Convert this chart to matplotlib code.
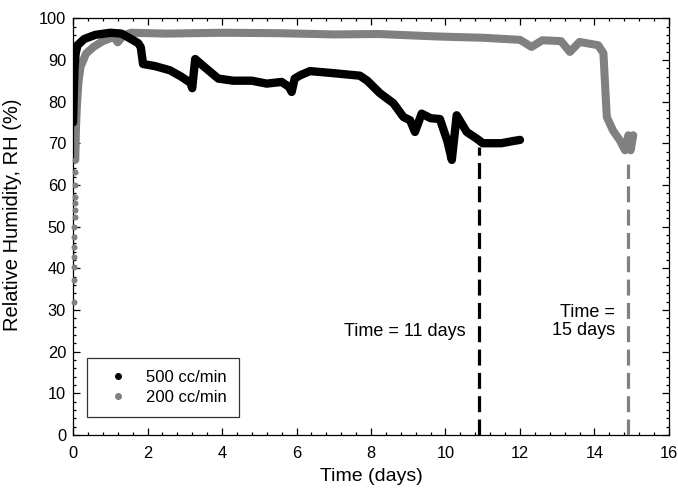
import numpy as np
import matplotlib
matplotlib.use("Agg")
import matplotlib.pyplot as plt
from matplotlib.ticker import MultipleLocator

plt.rcParams['font.family'] = ['Liberation Sans', 'DejaVu Sans']

# 500 cc/min run (days, %RH)
t_500 = [0.0, 0.02, 0.04, 0.07, 0.12, 0.3, 0.6, 1.0, 1.3, 1.5, 1.75, 1.82, 1.88,
         2.2, 2.6, 2.9, 3.15, 3.2, 3.28, 3.5, 3.7, 3.9, 4.3, 4.8, 5.2, 5.6, 5.8,
         5.87, 5.95, 6.1, 6.36, 7.0, 7.7, 7.9, 8.24, 8.6, 8.87, 9.05, 9.18, 9.36,
         9.6, 9.85, 10.05, 10.17, 10.3, 10.57, 10.84, 11.0, 11.5, 11.8, 12.0]
rh_500 = [75, 82, 88, 91.5, 93.5, 95, 96, 96.5, 96.3, 95.3, 94, 93, 89,
          88.5, 87.5, 86, 84.5, 83.2, 90.2, 88.5, 87, 85.5, 85, 85, 84.3, 84.7, 83.5,
          82.3, 85.5, 86.3, 87.3, 86.8, 86.2, 85, 82, 79.6, 76.3, 75.5, 72.7, 77.1,
          76, 75.8, 70.5, 66, 76.7, 72.7, 71.1, 70, 70, 70.5, 70.8]

# 200 cc/min run, sparse start then dense trace
t_200_start = [0.02, 0.023, 0.026, 0.029, 0.032, 0.035, 0.038, 0.041, 0.044, 0.047,
               0.05, 0.053, 0.056, 0.06]
rh_200_start = [32, 37.2, 40.4, 42.8, 45.2, 47.6, 50, 52.4, 54, 55.6, 57.1, 60, 63, 66]
t_200 = [0.06, 0.08, 0.11, 0.15, 0.2, 0.35, 0.55, 0.8, 1.1, 1.2, 1.35, 1.55, 2.5,
         4.0, 5.5, 7.0, 8.2, 9.8, 11.0, 12.0, 12.31, 12.6, 13.1, 13.34, 13.6, 14.1,
         14.24, 14.33, 14.5, 14.68, 14.82, 14.91, 14.97, 15.04]
rh_200 = [66, 74, 80, 85, 88.3, 91.5, 93.1, 94.5, 95.5, 94.2, 95.8, 96.5, 96.3,
          96.5, 96.4, 96.1, 96.2, 95.6, 95.3, 94.8, 93.1, 94.7, 94.5, 91.9, 94.3, 93.5,
          91.6, 76.3, 73, 70.7, 68.3, 71.9, 68.3, 71.9]

# end-of-test markers
t_end = [10.9, 14.89]
rh_end = [69, 65]

black = '#000000'
grey = '#808080'

fig = plt.figure(figsize=(6.78, 4.91), dpi=100)
ax = fig.add_axes([0.1077, 0.114, 0.879, 0.849])

ax.plot(t_500, rh_500, color=black, lw=6, solid_capstyle='round',
        solid_joinstyle='round', zorder=3)
ax.plot(t_200_start, rh_200_start, 'o', color=grey, ms=4.3, mec='none', zorder=3,
        clip_on=False)
ax.plot(t_200, rh_200, color=grey, lw=5.8, solid_capstyle='round',
        solid_joinstyle='round', zorder=2)

# legend handles
ax.plot([], [], 'o', color=black, ms=4, label='500 cc/min')
ax.plot([], [], 'o', color=grey, ms=4, label='200 cc/min')

ax.vlines(t_end[0], 0, rh_end[0], color=black, lw=2.3, linestyles=(0, (5, 2.3)), zorder=4)
ax.vlines(t_end[1], 0, rh_end[1], color=grey, lw=2.3, linestyles=(0, (5, 2.3)), zorder=4)

ax.text(10.55, 24.9, 'Time = 11 days', ha='right', va='center', fontsize=13)
ax.text(14.55, 27.2, 'Time =\n15 days', ha='right', va='center', fontsize=13,
        linespacing=1.1)

ax.set_xlim(0, 16)
ax.set_ylim(0, 100)
ax.xaxis.set_major_locator(MultipleLocator(2))
ax.xaxis.set_minor_locator(MultipleLocator(0.4))
ax.yaxis.set_major_locator(MultipleLocator(10))
ax.yaxis.set_minor_locator(MultipleLocator(2))
ax.tick_params(which='both', direction='in', top=True, right=True, width=0.9)
ax.tick_params(which='major', length=5, labelsize=11.8)
ax.tick_params(axis='x', which='major', pad=8)
ax.tick_params(axis='y', which='major', pad=5)
ax.tick_params(which='minor', length=2.5)
for s in ax.spines.values():
    s.set_linewidth(0.9)

ax.set_xlabel('Time (days)', fontsize=14, labelpad=5)
ax.set_ylabel('Relative Humidity, RH (%)', fontsize=14.5)
ax.yaxis.set_label_coords(-0.086, 0.528)

leg = ax.legend(loc='lower left', bbox_to_anchor=(0.0235, 0.043), borderaxespad=0,
                fontsize=12, frameon=True, fancybox=False, edgecolor='black',
                handletextpad=0.53, borderpad=0.72, handlelength=2.28,
                labelspacing=0.3)
leg.get_frame().set_linewidth(0.9)

fig.savefig('out.png', dpi=100)
